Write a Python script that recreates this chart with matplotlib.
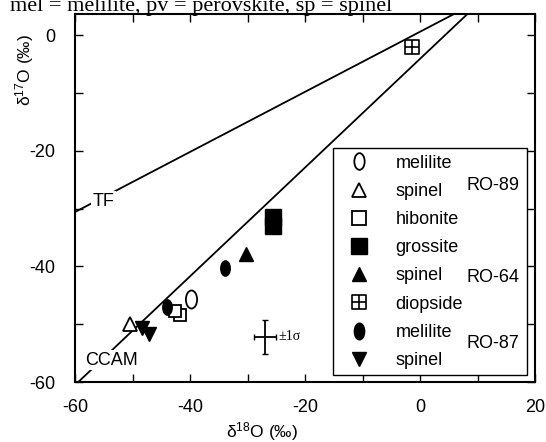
import numpy as np
import matplotlib.pyplot as plt
from matplotlib.path import Path
from matplotlib.lines import Line2D

plt.rcParams['font.family'] = ['Liberation Sans', 'DejaVu Sans']
plt.rcParams['mathtext.default'] = 'regular'
plt.rcParams['axes.unicode_minus'] = False

# RO-89 (open symbols)
mel89_x = [-39.8]
mel89_y = [-45.6]
sp89_x = [-50.4]
sp89_y = [-49.9]
hib89_x = [-41.7, -42.6]
hib89_y = [-48.4, -47.8]

# RO-64
gro64_x = [-25.6, -25.6]
gro64_y = [-31.5, -33.0]
sp64_x = [-30.3]
sp64_y = [-37.9]
dio64_x = [-1.4]
dio64_y = [-2.1]

# RO-87
mel87_x = [-44.0, -33.9]
mel87_y = [-47.0, -40.2]
sp87_x = [-48.4, -47.2]
sp87_y = [-50.6, -51.7]

# reference lines, end points
tf_x = [-60.0, 6.0]
tf_y = [-30.6, 3.7]
ccam_x = [-60.5, 8.4]
ccam_y = [-61.0, 3.8]

# typical error
err_x, err_y = -27.0, -52.2
err_sx, err_sy = 1.9, 3.0

# custom markers
circ = Path.unit_circle()
oval = Path(circ.vertices * [0.62, 1.0], circ.codes)
grid_sq = Path([(-1, -1), (1, -1), (1, 1), (-1, 1), (-1, -1),
                (0, -1), (0, 1), (-1, 0), (1, 0)],
               [Path.MOVETO, Path.LINETO, Path.LINETO, Path.LINETO, Path.CLOSEPOLY,
                Path.MOVETO, Path.LINETO, Path.MOVETO, Path.LINETO])

fig = plt.figure(figsize=(5.46, 4.42), dpi=100)
ax = fig.add_axes([0.1374, 0.1357, 0.8425, 0.8326])

ax.plot(tf_x, tf_y, 'k-', lw=1.3, zorder=1)
ax.plot(ccam_x, ccam_y, 'k-', lw=1.3, zorder=1)

op = dict(linestyle='none', color='k', mfc='white', mew=1.3, zorder=3)
fl = dict(linestyle='none', color='k', zorder=3)
ax.plot(mel89_x, mel89_y, marker=oval, ms=13, **op)
ax.plot(sp89_x, sp89_y, marker='^', ms=10, **op)
ax.plot(hib89_x, hib89_y, marker='s', ms=9, **op)
ax.plot(gro64_x, gro64_y, marker='s', ms=12, **fl)
ax.plot(sp64_x, sp64_y, marker='^', ms=10, **fl)
ax.plot(dio64_x, dio64_y, marker=grid_sq, ms=10, mfc='none', mew=1.2, **fl)
ax.plot(mel87_x, mel87_y, marker=oval, ms=11, **fl)
ax.plot(sp87_x, sp87_y, marker='v', ms=10, **fl)

ax.errorbar(err_x, err_y, xerr=err_sx, yerr=err_sy, fmt='none', ecolor='k',
            elinewidth=1.3, capsize=2.5, zorder=3)
ax.text(err_x + 2.4, err_y, '±1σ', family='Liberation Serif', fontsize=10,
        ha='left', va='center')

ax.text(-55.1, -28.7, 'TF', fontsize=13, ha='center', va='center', zorder=2,
        bbox=dict(fc='white', ec='none', pad=1))
ax.text(-53.6, -56.2, 'CCAM', fontsize=13, ha='center', va='center', zorder=2,
        bbox=dict(fc='white', ec='none', pad=1))

handles = [
    Line2D([], [], marker=oval, ms=12, **op),
    Line2D([], [], marker='^', ms=10, **op),
    Line2D([], [], marker='s', ms=10, **op),
    Line2D([], [], marker='s', ms=11, **fl),
    Line2D([], [], marker='^', ms=10, **fl),
    Line2D([], [], marker=grid_sq, ms=10, mfc='none', mew=1.2, **fl),
    Line2D([], [], marker=oval, ms=12, **fl),
    Line2D([], [], marker='v', ms=10, **fl),
]
labels = ['melilite', 'spinel', 'hibonite', 'grossite', 'spinel', 'diopside',
          'melilite', 'spinel']
leg = ax.legend(handles, labels, loc='upper left', bbox_to_anchor=(0.561, 0.635, 0.422, 0.0),
                mode='expand', fontsize=13, frameon=True, fancybox=False,
                edgecolor='k', framealpha=1, borderpad=0.35, labelspacing=0.62,
                handlelength=2.2, handletextpad=0.9, borderaxespad=0)
leg.get_frame().set_linewidth(1.0)
leg.set_zorder(5)

for lab, yy in [('RO-89', 0.535), ('RO-64', 0.283), ('RO-87', 0.106)]:
    ax.text(0.909, yy, lab, transform=ax.transAxes, fontsize=13,
            ha='center', va='center', zorder=6)

ax.set_xlim(-60, 20)
ax.set_ylim(-60, 3.65)
ax.set_xticks(np.arange(-60, 21, 20))
ax.set_xticks(np.arange(-60, 21, 10), minor=True)
ax.set_yticks(np.arange(-60, 1, 20))
ax.set_yticks(np.arange(-60, 1, 10), minor=True)
ax.tick_params(which='both', direction='in', top=True, right=True,
               length=6, width=1, labelsize=13)
ax.tick_params(axis='x', pad=12)
ax.tick_params(axis='y', pad=14)
for s in ax.spines.values():
    s.set_linewidth(1.5)

fig.text(262 / 546, 1 - 432 / 442, 'δ$^{18}$O (‰)', fontsize=12.5,
         ha='center', va='center')
fig.text(25 / 546, 1 - 70 / 442, 'δ$^{17}$O (‰)', fontsize=12.5,
         ha='center', va='center', rotation=90)
fig.text(10 / 546, 1 - 11 / 442, 'mel = melilite, pv = perovskite, sp = spinel',
         family='Liberation Serif', fontsize=16, ha='left', va='baseline')

fig.savefig('out.png', dpi=100)
